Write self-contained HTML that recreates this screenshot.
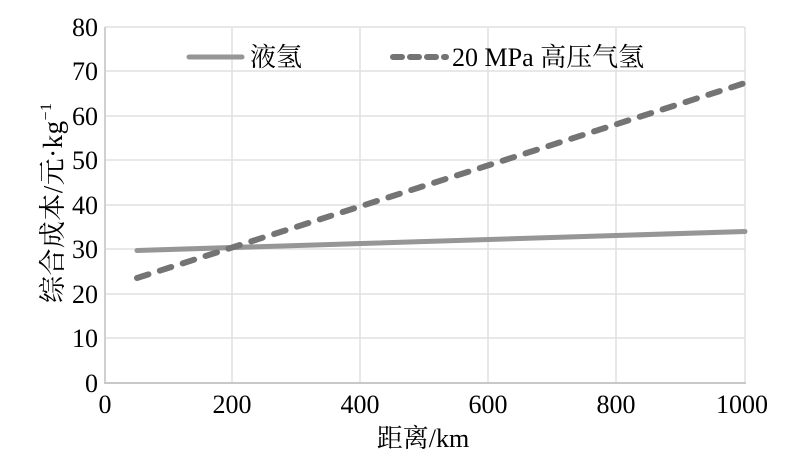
<!DOCTYPE html>
<html><head><meta charset="utf-8"><style>
html,body{margin:0;padding:0;background:#fff;}
svg{display:block;}
text{font-family:"Liberation Serif","Noto Serif CJK SC","Noto Sans CJK SC",serif;fill:#000;}
</style></head><body>
<svg width="797" height="462" viewBox="0 0 797 462" xmlns="http://www.w3.org/2000/svg">
<rect width="797" height="462" fill="#fff"/>
<!-- grid -->
<g stroke="#e0e0e0" stroke-width="1.5" fill="none">
<line x1="105" y1="27" x2="745" y2="27"/>
<line x1="105" y1="71" x2="745" y2="71"/>
<line x1="105" y1="116" x2="745" y2="116"/>
<line x1="105" y1="160" x2="745" y2="160"/>
<line x1="105" y1="205" x2="745" y2="205"/>
<line x1="105" y1="249" x2="745" y2="249"/>
<line x1="105" y1="294" x2="745" y2="294"/>
<line x1="105" y1="338" x2="745" y2="338"/>
<line x1="232" y1="27" x2="232" y2="383"/>
<line x1="360" y1="27" x2="360" y2="383"/>
<line x1="488" y1="27" x2="488" y2="383"/>
<line x1="616" y1="27" x2="616" y2="383"/>
<line x1="745" y1="27" x2="745" y2="383"/>
</g>
<line x1="105" y1="27" x2="105" y2="383" stroke="#d0d0d0" stroke-width="2"/>
<line x1="104" y1="383" x2="746" y2="383" stroke="#c8c8c8" stroke-width="2"/>
<!-- series -->
<line x1="137" y1="250.5" x2="745" y2="231.5" stroke="#969696" stroke-width="5" stroke-linecap="round"/>
<line x1="137" y1="278" x2="745" y2="83" stroke="#747474" stroke-width="6" stroke-linecap="round" stroke-dasharray="12 12"/>
<!-- legend -->
<line x1="189" y1="57" x2="242" y2="57" stroke="#969696" stroke-width="5" stroke-linecap="round"/>
<text x="250" y="66" font-size="26">液氢</text>
<line x1="393" y1="57" x2="446" y2="57" stroke="#747474" stroke-width="6" stroke-linecap="round" stroke-dasharray="9 8"/>
<text x="452" y="66" font-size="26">20 MPa 高压气氢</text>
<!-- y ticks -->
<g font-size="26" text-anchor="end">
<text x="98" y="36">80</text>
<text x="98" y="80">70</text>
<text x="98" y="125">60</text>
<text x="98" y="169">50</text>
<text x="98" y="214">40</text>
<text x="98" y="258">30</text>
<text x="98" y="303">20</text>
<text x="98" y="347">10</text>
<text x="98" y="392">0</text>
</g>
<!-- x ticks -->
<g font-size="26" text-anchor="middle">
<text x="105" y="413">0</text>
<text x="232" y="413">200</text>
<text x="360" y="413">400</text>
<text x="488" y="413">600</text>
<text x="616" y="413">800</text>
<text x="742" y="413">1000</text>
</g>
<!-- axis titles -->
<text x="423" y="447" font-size="26" text-anchor="middle">距离/km</text>
<text transform="translate(62,203) rotate(-90)" font-size="27" text-anchor="middle" textLength="200" lengthAdjust="spacing">综合成本/元·kg<tspan font-size="16" dy="-11">−1</tspan></text>
</svg>
</body></html>
